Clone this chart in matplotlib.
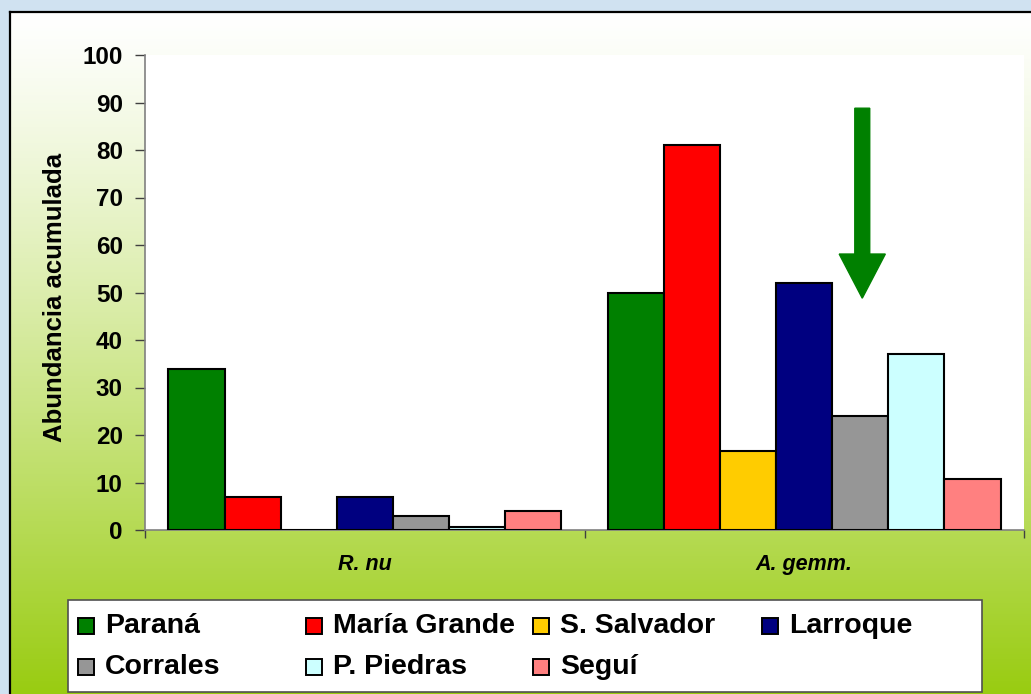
import numpy as np
import matplotlib
matplotlib.use("Agg")
import matplotlib.pyplot as plt
from matplotlib.patches import Rectangle, FancyArrow

plt.rcParams['font.family'] = ['Liberation Sans', 'DejaVu Sans']

# data
categories = ["R. nu", "A. gemm."]
sites = ["Paraná", "María Grande", "S. Salvador", "Larroque",
         "Corrales", "P. Piedras", "Seguí"]
colors = ["#008000", "#FF0000", "#FFCC00", "#000080",
          "#969696", "#CCFFFF", "#FF8080"]
values = {
    "Paraná":       [34, 50],
    "María Grande": [7, 81],
    "S. Salvador":  [0, 16.7],
    "Larroque":     [7, 52],
    "Corrales":     [3, 24],
    "P. Piedras":   [0.7, 37],
    "Seguí":        [4, 10.8],
}
yticks = list(range(0, 101, 10))

W, H = 1031, 694
fig = plt.figure(figsize=(W / 100, H / 100), dpi=100)
fig.patch.set_facecolor("#D0E2F1")

# chart area with vertical gradient
bg = fig.add_axes([10 / W, 0, 1.0, 1 - 12 / H], zorder=-5)
t = np.linspace(0, 1, 256) ** 1.2
top = np.array([1.0, 1.0, 1.0])
bot = np.array([0x99, 0xCC, 0x11]) / 255
grad = top[None, :] * (1 - t[:, None]) + bot[None, :] * t[:, None]
bg.imshow(grad[:, None, :], aspect="auto", extent=[0, 1, 0, 1], origin="upper")
bg.set_xlim(0, 1)
bg.set_ylim(0, 1)
bg.set_xticks([])
bg.set_yticks([])
for s in ["right", "bottom"]:
    bg.spines[s].set_visible(False)
for s in ["top", "left"]:
    bg.spines[s].set_color("black")
    bg.spines[s].set_linewidth(1.6)

# plot area
ax = fig.add_axes([145 / W, 1 - 530 / H, (1024 - 145) / W, (530 - 55) / H])
ax.set_facecolor("white")

x = np.arange(len(categories))
w = 0.1276
for i, name in enumerate(sites):
    ax.bar(x + (i - 3) * w, values[name], width=w, color=colors[i],
           edgecolor="black", linewidth=1.5, label=name, zorder=3)

ax.set_xlim(-0.5, 1.5)
ax.set_ylim(0, 100)
ax.set_yticks(yticks)
ax.set_yticklabels([str(v) for v in yticks], fontsize=17.5, fontweight="bold")
ax.tick_params(axis="y", length=7, width=1, color="#404040", pad=9)

ax.set_xticks([-0.5, 0.5, 1.5])
ax.set_xticklabels([])
ax.tick_params(axis="x", which="major", length=6, width=1, color="#404040")
ax.set_xticks(x, minor=True)
ax.set_xticklabels(categories, minor=True, fontsize=15.5,
                   fontweight="bold", fontstyle="italic")
ax.tick_params(axis="x", which="minor", length=0, pad=17)

for s in ["top", "right"]:
    ax.spines[s].set_visible(False)
for s in ["left", "bottom"]:
    ax.spines[s].set_color("#808080")
    ax.spines[s].set_linewidth(1.2)

ax.set_ylabel("Abundancia acumulada", fontsize=18.5, fontweight="bold")
ax.yaxis.set_label_coords(-0.089, 0.49)

# green arrow pointing at the P. Piedras bar
arrow = FancyArrow(1.132, 88.8, 0, -40.0, width=0.034, head_width=0.105,
                   head_length=9.3, length_includes_head=True,
                   color="#008000", zorder=4)
ax.add_patch(arrow)

# legend with equal-width columns
lx0, ly0, lx1, ly1 = 68, 600, 982, 692
fig.patches.append(Rectangle((lx0 / W, 1 - ly1 / H), (lx1 - lx0) / W,
                             (ly1 - ly0) / H, transform=fig.transFigure,
                             facecolor="white", edgecolor="#505050",
                             linewidth=1.2, zorder=1))
col_x = [78, 306, 533, 762]
row_y = [626, 667]
sq = 16
for i, name in enumerate(sites):
    cx = col_x[i % 4]
    cy = row_y[i // 4]
    fig.patches.append(Rectangle((cx / W, 1 - (cy + sq / 2) / H), sq / W, sq / H,
                                 transform=fig.transFigure, facecolor=colors[i],
                                 edgecolor="black", linewidth=1.4, zorder=2))
    fig.text((cx + 27) / W, 1 - cy / H, name, fontsize=20.5, fontweight="bold",
             ha="left", va="center", zorder=3)

fig.savefig("out.png", dpi=100, facecolor=fig.get_facecolor())
